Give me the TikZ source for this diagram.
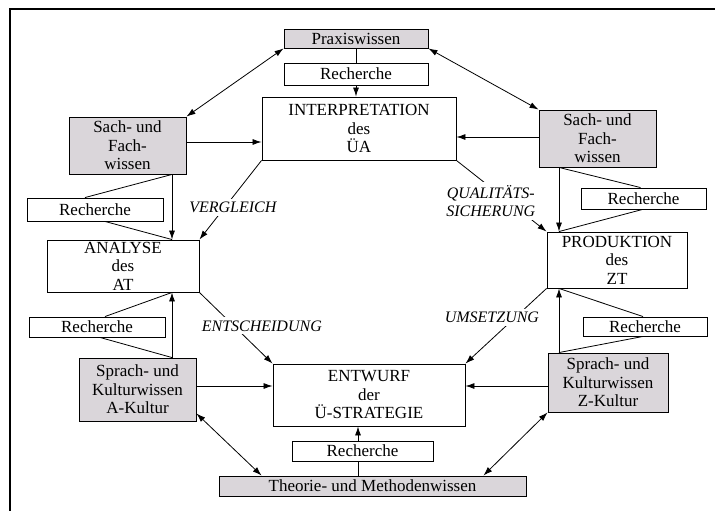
\documentclass[tikz,border=0pt]{standalone}
\usepackage{fontspec}
\setmainfont{Liberation Serif}
\usetikzlibrary{arrows.meta}
\definecolor{boxgray}{RGB}{218,214,218}
\begin{document}
\begin{tikzpicture}[x=1pt,y=-1pt,
  every node/.style={inner sep=0pt, align=center, font=\fontsize{17}{18.5}\selectfont},
  bx/.style={draw=black, line width=0.9pt, fill=white},
  gbx/.style={bx, fill=boxgray},
  conn/.style={line width=0.8pt},
  arr/.style={conn, -{Latex[length=9pt,width=6pt]}},
  darr/.style={conn, {Latex[length=9pt,width=6pt]}-{Latex[length=9pt,width=6pt]}},
  lab/.style={fill=white, inner xsep=2pt, inner ysep=3pt, font=\fontsize{16}{18}\selectfont\itshape}
]
\useasboundingbox (0,0) rectangle (715,511);
\fill[white] (0,0) rectangle (715,511);
\draw[line width=1.8pt] (10,511) -- (10,9) -- (715,9);

% column coordinates
\coordinate (vL) at (172,0);
\coordinate (vR) at (559,0);
\coordinate (vC) at (356,0);
\coordinate (vC2) at (358,0);
\coordinate (hL) at (0,142);
\coordinate (hR) at (0,137);
\coordinate (hB) at (0,386);

% nodes
\node[gbx, minimum width=144pt, minimum height=19pt] (prax) at (356,38.5) {Praxiswissen};
\node[bx, minimum width=144pt, minimum height=22pt] (rech1) at (356,74) {Recherche};
\node[bx, minimum width=194pt, minimum height=63pt] (interp) at (359,128.5) {INTERPRETATION\\des\\ÜA};
\node[gbx, minimum width=117pt, minimum height=57pt] (sachL) at (127.5,145.5) {Sach- und\\Fach-\\wissen};
\node[gbx, minimum width=117pt, minimum height=57pt] (sachR) at (597.5,138.5) {Sach- und\\Fach-\\wissen};
\node[bx, minimum width=136pt, minimum height=23pt] (rechL1) at (95,209.5) {Recherche};
\node[bx, minimum width=152pt, minimum height=52pt] (analyse) at (123,266) {ANALYSE\\des\\AT};
\node[bx, minimum width=136pt, minimum height=20pt] (rechL2) at (97,327) {Recherche};
\node[gbx, minimum width=117pt, minimum height=63pt] (spraA) at (137.5,389.5) {Sprach- und\\Kulturwissen\\A-Kultur};
\node[bx, minimum width=125pt, minimum height=21pt] (rechR1) at (643.5,198.5) {Recherche};
\node[bx, minimum width=140pt, minimum height=56pt] (prod) at (617,260) {PRODUKTION\\des\\ZT};
\node[bx, minimum width=124pt, minimum height=19pt] (rechR2) at (645,326.5) {Recherche};
\node[gbx, minimum width=120pt, minimum height=59pt] (spraZ) at (608,382.5) {Sprach- und\\Kulturwissen\\Z-Kultur};
\node[bx, minimum width=192pt, minimum height=62pt] (entwurf) at (369,395) {ENTWURF\\der\\Ü-STRATEGIE};
\node[bx, minimum width=141pt, minimum height=20pt] (rech3) at (362.5,451) {Recherche};
\node[gbx, minimum width=307pt, minimum height=20pt] (theorie) at (372.5,486) {Theorie- und Methodenwissen};

% centre column
\draw[conn] (prax.south -| vC) -- (rech1.north -| vC);
\draw[arr] (rech1.south -| vC) -- (interp.north -| vC);
\draw[conn] (theorie.north -| vC2) -- (rech3.south -| vC2);
\draw[arr] (rech3.north -| vC2) -- (entwurf.south -| vC2);

% double arrows
\draw[darr] (prax.south west) -- (sachL.north east);
\draw[darr] (prax.south east) -- (sachR.north west);
\draw[darr] ([yshift=8pt]spraA.south east) -- ([xshift=43pt]theorie.north west);
\draw[darr] (spraZ.south west) -- ([xshift=-43pt]theorie.north east);

% horizontal arrows
\draw[arr] (sachL.east |- hL) -- (interp.west |- hL);
\draw[arr] (sachR.west |- hR) -- (interp.east |- hR);
\draw[arr] (spraA.east |- hB) -- (entwurf.west |- hB);
\draw[arr] (spraZ.west |- hB) -- (entwurf.east |- hB);

% left column
\draw[arr] (sachL.south -| vL) -- (analyse.north -| vL);
\draw[arr] (spraA.north -| vL) -- (analyse.south -| vL);
\draw[conn] (sachL.south -| vL) -- ([xshift=-10pt]rechL1.north);
\draw[conn] ([xshift=10pt]rechL1.south) -- (analyse.north -| vL);
\draw[conn] (analyse.south -| vL) -- ([xshift=8pt]rechL2.north);
\draw[conn] ([xshift=3pt]rechL2.south) -- (spraA.north -| vL);

% right column
\draw[arr] (sachR.south -| vR) -- (prod.north -| vR);
\draw[arr] (spraZ.north -| vR) -- (prod.south -| vR);
\draw[conn] (sachR.south -| vR) -- ([xshift=-3pt]rechR1.north);
\draw[conn] ([xshift=-1pt]rechR1.south) -- (prod.north -| vR);
\draw[conn] (prod.south -| vR) -- ([xshift=-2pt]rechR2.north);
\draw[conn] ([xshift=-2pt]rechR2.south) -- (spraZ.north -| vR);

% labelled diagonals
\draw[arr] (interp.south west) -- node[lab, pos=0.59, xshift=8pt] {VERGLEICH} (analyse.north east);
\draw[arr] (interp.south east) -- node[lab, pos=0.57, xshift=-17pt] {QUALITÄTS-\\SICHERUNG} (prod.north west);
\draw[arr] (analyse.south east) -- node[lab, pos=0.47, xshift=28pt] {ENTSCHEIDUNG} (entwurf.north west);
\draw[arr] (prod.south west) -- node[lab, pos=0.39, xshift=-23pt] {UMSETZUNG} (entwurf.north east);
\end{tikzpicture}
\end{document}
